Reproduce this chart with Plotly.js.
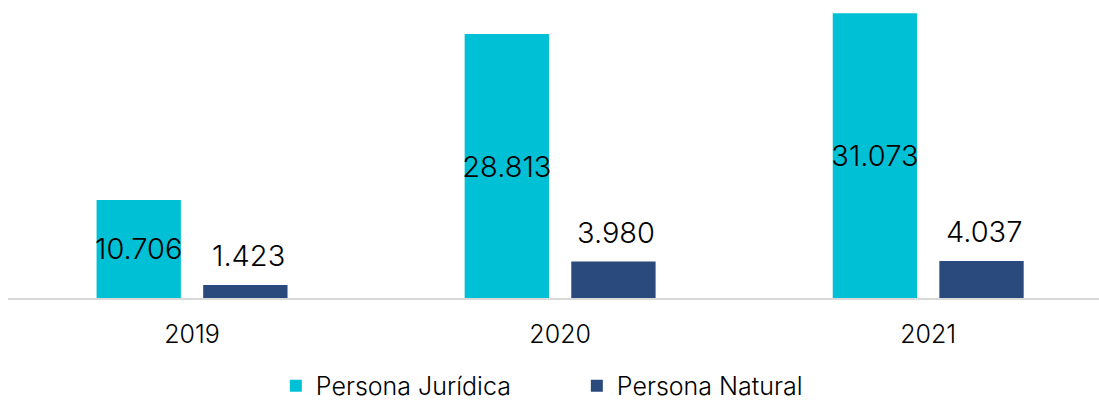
<!DOCTYPE html>
<html>
<head>
<meta charset="utf-8">
<script src="https://cdn.plot.ly/plotly-3.0.1.min.js"></script>
<style>html,body{margin:0;padding:0;background:#fff;}#chart{width:1099px;height:404px;}</style>
</head>
<body>
<div id="chart"></div>
<script>
const years = ['2019', '2020', '2021'];
const juridica = [10706, 28813, 31073];
const natural = [1423, 3980, 4037];
const seriesNames = ['Persona Jurídica', 'Persona Natural'];

const FONT = 'Inter, "DejaVu Sans", sans-serif';
const CYAN = '#00C0D5';
const NAVY = '#2A4A7D';

const fmt = v => String(v).replace(/\B(?=(\d{3})+(?!\d))/g, '.');

const traces = [
  {
    type: 'bar', name: seriesNames[0], x: years, y: juridica,
    marker: {color: CYAN},
    text: juridica.map(fmt), textposition: 'inside', insidetextanchor: 'middle',
    constraintext: 'none', textangle: 0,
    textfont: {family: FONT, size: 29, color: '#000', weight: 300},
    hoverinfo: 'none'
  },
  {
    type: 'bar', name: seriesNames[1], x: years, y: natural,
    marker: {color: NAVY},
    hoverinfo: 'none'
  }
];

const annotations = natural.map((v, i) => ({
  x: i, y: v, xref: 'x', yref: 'y', text: fmt(v),
  showarrow: false, yanchor: 'bottom', xanchor: 'center', xshift: 56, yshift: 10,
  font: {family: FONT, size: 29, color: '#000', weight: 300}
}));

const layout = {
  width: 1099, height: 404,
  margin: {l: 8, r: 0, t: 0, b: 106, autoexpand: false},
  paper_bgcolor: '#fff', plot_bgcolor: '#fff',
  barmode: 'group', bargap: 0.4207, bargroupgap: 0.209,
  showlegend: true,
  legend: {
    orientation: 'h', x: 0.2455, xanchor: 'left', y: -0.2953, yanchor: 'middle',
    font: {family: FONT, size: 25, color: '#000', weight: 300},
    entrywidth: 256, entrywidthmode: 'pixels', traceorder: 'normal'
  },
  xaxis: {
    type: 'category', range: [-0.5, 2.464], fixedrange: true,
    showline: true, linecolor: '#D9D9D9', linewidth: 2,
    ticks: '', showgrid: false, zeroline: false, ticklabelstandoff: 13,
    tickfont: {family: FONT, size: 25, color: '#000', weight: 300}
  },
  yaxis: {
    range: [0, 32530], showgrid: false, zeroline: false, showline: false,
    showticklabels: false, ticks: '', fixedrange: true
  },
  annotations: annotations,
  font: {family: FONT}
};

Plotly.newPlot('chart', traces, layout, {displayModeBar: false, staticPlot: true});
</script>
</body>
</html>
